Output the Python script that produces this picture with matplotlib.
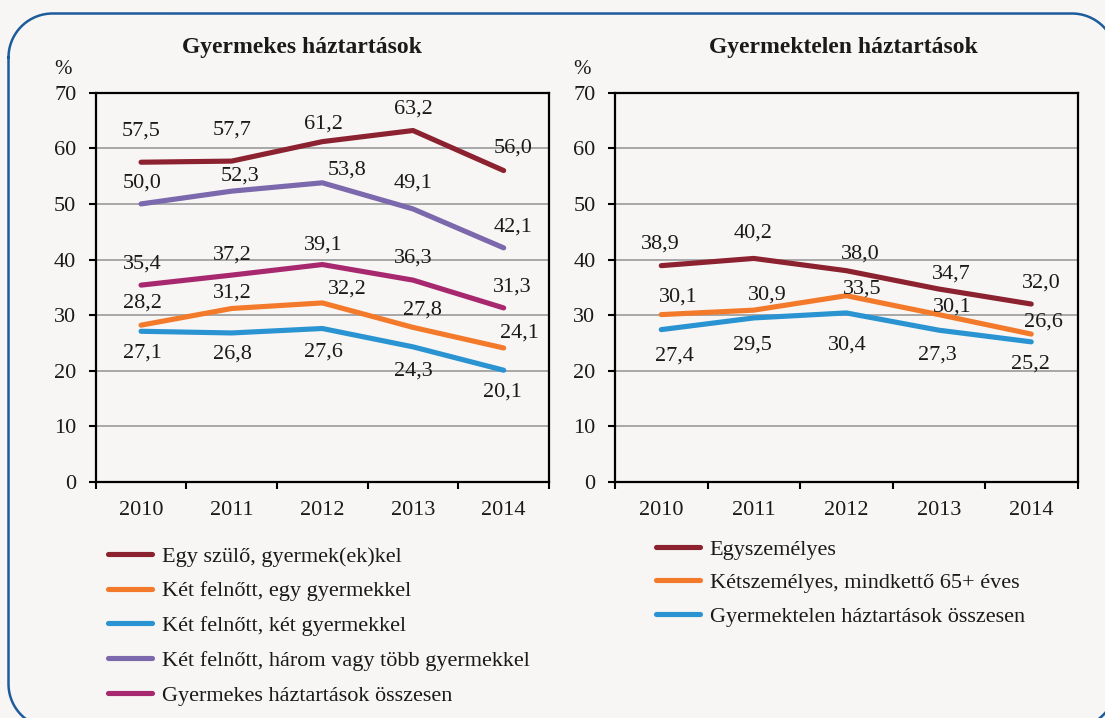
import matplotlib
matplotlib.use("Agg")
import numpy as np
import matplotlib.pyplot as plt
from matplotlib.lines import Line2D

# ---------------- data ----------------
years = ["2010", "2011", "2012", "2013", "2014"]

left_title = "Gyermekes háztartások"
left_labels = [
    "Egy szülő, gyermek(ek)kel",
    "Két felnőtt, egy gyermekkel",
    "Két felnőtt, két gyermekkel",
    "Két felnőtt, három vagy több gyermekkel",
    "Gyermekes háztartások összesen",
]
egy_szulo = [57.5, 57.7, 61.2, 63.2, 56.0]
ket_felnott_egy = [28.2, 31.2, 32.2, 27.8, 24.1]
ket_felnott_ket = [27.1, 26.8, 27.6, 24.3, 20.1]
ket_felnott_harom = [50.0, 52.3, 53.8, 49.1, 42.1]
gyermekes_ossz = [35.4, 37.2, 39.1, 36.3, 31.3]

right_title = "Gyermektelen háztartások"
right_labels = [
    "Egyszemélyes",
    "Kétszemélyes, mindkettő 65+ éves",
    "Gyermektelen háztartások összesen",
]
egyszemelyes = [38.9, 40.2, 38.0, 34.7, 32.0]
ketszemelyes_65 = [30.1, 30.9, 33.5, 30.1, 26.6]
gyermektelen_ossz = [27.4, 29.5, 30.4, 27.3, 25.2]

# ---------------- styles ----------------
RED = "#8c2130"
ORANGE = "#f37a2b"
BLUE = "#2a93d1"
PURPLE = "#7c68ad"
MAGENTA = "#a8286f"
BG = "#f7f6f4"
FONT = "Liberation Serif"
FS = 16

left_series = [egy_szulo, ket_felnott_egy, ket_felnott_ket, ket_felnott_harom, gyermekes_ossz]
left_colors = [RED, ORANGE, BLUE, PURPLE, MAGENTA]
# label offsets (pixels) relative to each point
left_offsets = [
    [(0, 31), (0, 31), (1, 18), (0, 21), (9, 23)],
    [(1, 22), (1, 15), (25, 14), (9, 17), (16, 15)],
    [(1, -22), (1, -21), (1, -24), (0, -24), (-1, -22)],
    [(1, 21), (8, 15), (25, 13), (0, 26), (9, 21)],
    [(1, 21), (1, 20), (1, 20), (0, 22), (9, 21)],
]

right_series = [egyszemelyes, ketszemelyes_65, gyermektelen_ossz]
right_colors = [RED, ORANGE, BLUE]
right_offsets = [
    [(-1, 22), (-1, 25), (14, 17), (13, 15), (10, 21)],
    [(17, 18), (14, 15), (16, 7), (14, 8), (12, 12)],
    [(13, -26), (-1, -27), (1, -32), (-1, -25), (-1, -22)],
]

plt.rcParams["font.family"] = [FONT, "DejaVu Serif"]

W, H = 1105, 718
fig = plt.figure(figsize=(W / 100, H / 100), dpi=100, facecolor=BG)

# rounded border drawn in pixel coordinates (extends past right/bottom edges)
bax = fig.add_axes([0, 0, 1, 1], zorder=-1)
bax.set_xlim(0, W)
bax.set_ylim(H, 0)
bax.axis("off")
bx0, by0, bx1, by1, r = 8.5, 13.5, 1116.0, 728.0, 44.0
t = np.linspace(0, np.pi / 2, 40)
xs, ys = [], []
# top-left corner
xs += list(bx0 + r - r * np.cos(t)); ys += list(by0 + r - r * np.sin(t))
# top-right corner
xs += list(bx1 - r + r * np.sin(t)); ys += list(by0 + r - r * np.cos(t))
# bottom-right corner
xs += list(bx1 - r + r * np.cos(t)); ys += list(by1 - r + r * np.sin(t))
# bottom-left corner
xs += list(bx0 + r - r * np.sin(t)); ys += list(by1 - r + r * np.cos(t))
xs.append(xs[0]); ys.append(ys[0])
bax.plot(xs, ys, color="#1d5c9c", lw=1.8, clip_on=False)


def make_axes(rect, series, colors, offsets, title, title_x, pct_x):
    ax = fig.add_axes(rect, facecolor=BG)
    x = list(range(len(years)))
    for s, c, offs in zip(series, colors, offsets):
        ax.plot(x, s, color=c, lw=3.7, solid_capstyle="round",
                solid_joinstyle="round", zorder=3)
        for xi, v, (dx, dy) in zip(x, s, offs):
            ax.annotate(f"{v:.1f}".replace(".", ","), (xi, v),
                        xytext=(dx, dy), textcoords="offset pixels",
                        ha="center", va="center", fontsize=FS,
                        color="#1a1a1a", zorder=4)
    ax.set_xlim(-0.5, len(years) - 0.5)
    ax.set_ylim(0, 70)
    ax.set_yticks(range(0, 71, 10))
    ax.set_xticks(x)
    ax.set_xticklabels(years)
    ax.set_xticks([i - 0.5 for i in range(len(years) + 1)], minor=True)
    ax.tick_params(axis="x", which="major", length=0, pad=14, labelsize=FS,
                   colors="#1a1a1a")
    ax.tick_params(axis="x", which="minor", length=5, width=1.5,
                   direction="out", color="black")
    ax.tick_params(axis="y", which="major", length=5, width=1.5,
                   direction="out", pad=9, labelsize=FS, colors="#1a1a1a")
    ax.tick_params(axis="y", color="black")
    ax.grid(axis="y", color="#9a9a9a", lw=1.2, zorder=1)
    ax.set_axisbelow(True)
    for sp in ax.spines.values():
        sp.set_color("black")
        sp.set_linewidth(1.6)
    fig.text(title_x / W, 1 - 48 / H, title, ha="center", va="center",
             fontsize=17, fontweight="bold", color="#1a1a1a")
    fig.text(pct_x / W, 1 - 70 / H, "%", ha="center", va="center",
             fontsize=15, color="#1a1a1a")
    return ax


axL = make_axes([95.7 / W, 1 - 482 / H, (549 - 95.7) / W, (482 - 92.7) / H],
                left_series, left_colors, left_offsets, left_title, 302, 63)
axR = make_axes([615 / W, 1 - 482 / H, (1077.5 - 615) / W, (482 - 92.7) / H],
                right_series, right_colors, right_offsets, right_title, 843, 582)


def add_legend(labels, colors, x0, ytop, spacing):
    handles = [Line2D([], [], color=c, lw=3.7, solid_capstyle="round")
               for c in colors]
    leg = fig.legend(handles, labels, loc="upper left",
                     bbox_to_anchor=(x0 / W, 1 - ytop / H),
                     frameon=False, fontsize=FS, handlelength=2.0,
                     handletextpad=0.42, labelspacing=spacing,
                     borderaxespad=0, borderpad=0)
    for t_ in leg.get_texts():
        t_.set_color("#1a1a1a")
    return leg


add_legend(left_labels, left_colors, 108, 546, 0.64)
add_legend(right_labels, right_colors, 656, 539, 0.59)

fig.savefig("out.png", dpi=100, facecolor=BG)
